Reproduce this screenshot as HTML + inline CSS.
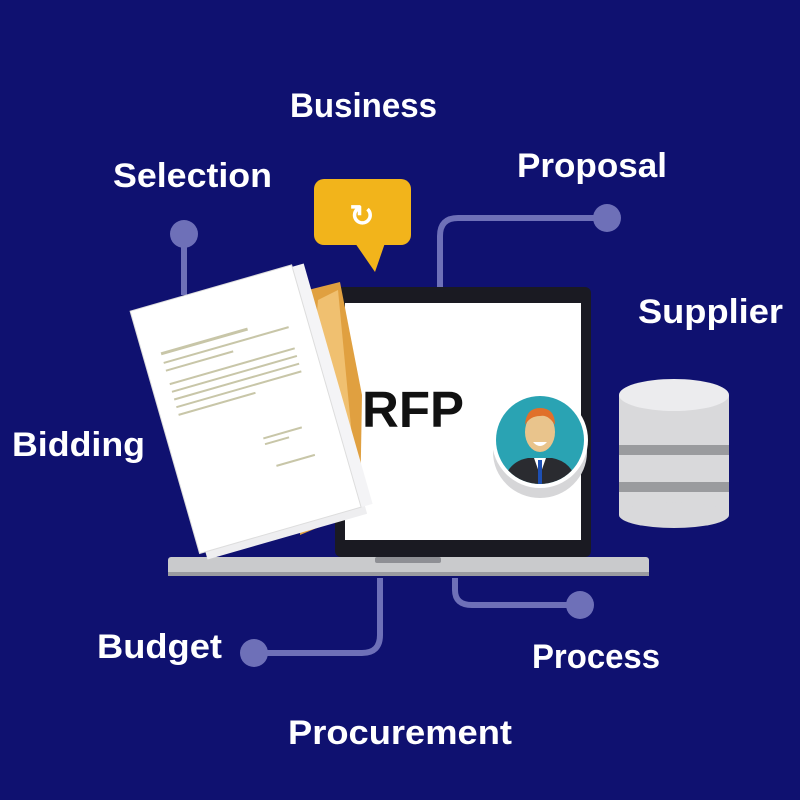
<!DOCTYPE html>
<html><head><style>html,body{margin:0;padding:0;background:#0f1170}svg{display:block}</style></head>
<body>
<svg width="800" height="800" viewBox="0 0 800 800" xmlns="http://www.w3.org/2000/svg" font-family="'Liberation Sans', sans-serif">
<rect width="800" height="800" fill="#0f1170"/>
<g fill="none" stroke="#6e70b8" stroke-width="6">
<path d="M184 234 V295"/>
<path d="M607 218 H458 Q440 218 440 236 V290"/>
<path d="M254 653 H362 Q380 653 380 635 V578"/>
<path d="M455 578 V590 Q455 605 472 605 H580"/>
</g>
<g fill="#6e70b8"><circle cx="184" cy="234" r="14"/><circle cx="607" cy="218" r="14"/><circle cx="254" cy="653" r="14"/><circle cx="580" cy="605" r="14"/></g>
<g fill="#fff" font-weight="bold" font-size="34">
<text x="290" y="117" textLength="147" lengthAdjust="spacingAndGlyphs">Business</text>
<text x="113" y="187" textLength="159" lengthAdjust="spacingAndGlyphs">Selection</text>
<text x="517" y="177" textLength="150" lengthAdjust="spacingAndGlyphs">Proposal</text>
<text x="638" y="323" textLength="145" lengthAdjust="spacingAndGlyphs">Supplier</text>
<text x="12" y="456" textLength="133" lengthAdjust="spacingAndGlyphs">Bidding</text>
<text x="97" y="658" textLength="125" lengthAdjust="spacingAndGlyphs">Budget</text>
<text x="532" y="668" textLength="128" lengthAdjust="spacingAndGlyphs">Process</text>
<text x="288" y="744" textLength="224" lengthAdjust="spacingAndGlyphs">Procurement</text>
</g>
<!-- bubble -->
<rect x="314" y="179" width="97" height="66" rx="10" fill="#f2b41b"/>
<path d="M355 243 L375 272 L385 243 Z" fill="#f2b41b"/>
<text x="362" y="226" font-size="30" fill="#fff" font-weight="bold" text-anchor="middle">↻</text>
<!-- laptop -->
<rect x="335" y="287" width="256" height="270" rx="6" fill="#1a1a22"/>
<rect x="345" y="303" width="236" height="237" fill="#fff"/>
<rect x="168" y="557" width="481" height="19" rx="3" fill="#c9cacc"/>
<rect x="168" y="572" width="481" height="4" fill="#9a9ba0"/>
<rect x="375" y="557" width="66" height="6" rx="2" fill="#8e8f94"/>
<text x="362" y="427" font-size="51" font-weight="bold" fill="#111">RFP</text>
<!-- avatar -->
<ellipse cx="540" cy="452" rx="47" ry="46" fill="#d6d6d8"/>
<circle cx="540" cy="440" r="48" fill="#fff"/>
<circle cx="540" cy="440" r="44" fill="#2aa3b3"/>
<clipPath id="av"><circle cx="540" cy="440" r="44"/></clipPath>
<g clip-path="url(#av)">
<path d="M502 490 Q505 462 528 458 L552 458 Q575 462 578 490 Z" fill="#2a2b30"/>
<path d="M534 458 L540 475 L546 458 Z" fill="#fff"/>
<rect x="538" y="460" width="4" height="26" fill="#1d4fb3"/>
<ellipse cx="540" cy="432" rx="15" ry="20" fill="#e9c48c"/>
<path d="M525 425 Q526 408 540 408 Q555 408 555 425 Q548 414 540 416 Q530 416 525 425Z" fill="#e0702a"/>
<path d="M533 442 Q540 450 547 442Z" fill="#fff"/>
</g>
<!-- database -->
<g>
<rect x="619" y="395" width="110" height="120" fill="#d9d9db"/>
<ellipse cx="674" cy="515" rx="55" ry="13" fill="#d9d9db"/>
<rect x="619" y="445" width="110" height="10" fill="#9a9b9e"/>
<rect x="619" y="482" width="110" height="10" fill="#9a9b9e"/>
<ellipse cx="674" cy="395" rx="55" ry="16" fill="#ececee"/>
</g>
<!-- folder -->
<path d="M308 290 L340 282 L362 395 L360 510 L300 535 Z" fill="#e0a040"/>
<path d="M318 300 L338 290 L358 500 L300 530 Z" fill="#f0c070"/>
<!-- papers -->
<g transform="rotate(-16 250 410)">
<rect x="168" y="292" width="166" height="250" fill="#eeeef0"/>
<rect x="176" y="284" width="166" height="250" fill="#f4f4f6"/>
<rect x="162" y="282" width="168" height="252" fill="#fff" stroke="#ddd"/>
<g fill="#c8c6a8">
<rect x="180" y="330" width="90" height="3"/>
<rect x="180" y="340" width="130" height="2"/>
<rect x="180" y="348" width="70" height="2"/>
<rect x="180" y="362" width="130" height="2"/>
<rect x="180" y="370" width="130" height="2"/>
<rect x="180" y="378" width="130" height="2"/>
<rect x="180" y="386" width="130" height="2"/>
<rect x="180" y="394" width="80" height="2"/>
<rect x="255" y="440" width="40" height="2"/>
<rect x="255" y="446" width="25" height="2"/>
<rect x="260" y="470" width="40" height="2"/>
</g>
</g>
</svg>
</body></html>
